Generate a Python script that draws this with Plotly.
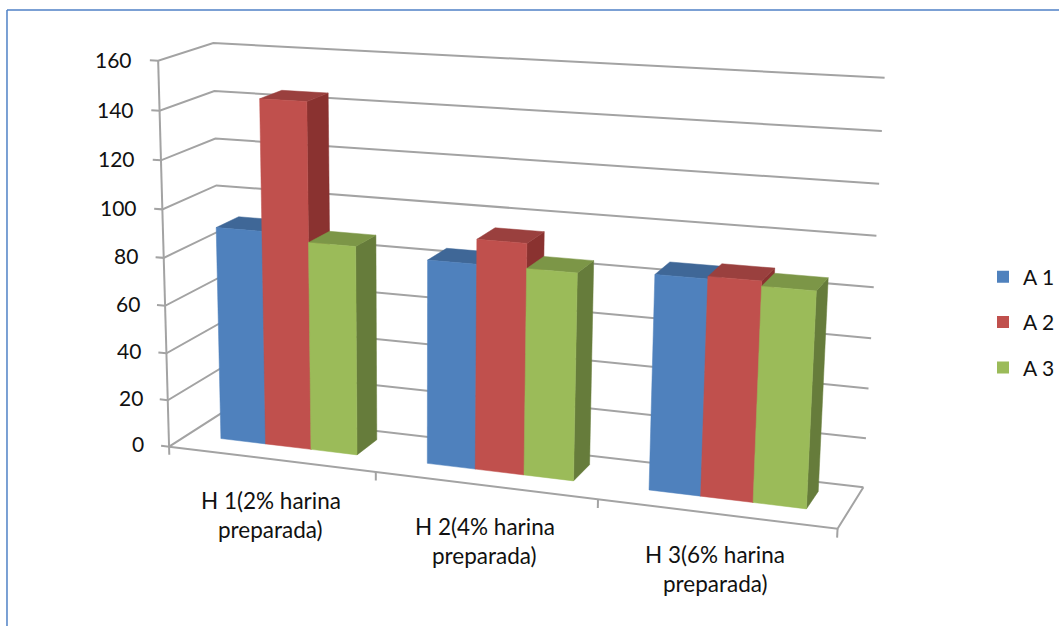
import numpy as np
import plotly.graph_objects as go

category_line1 = ["H 1(2% harina", "H 2(4% harina", "H 3(6% harina"]
category_line2 = ["preparada)", "preparada)", "preparada)"]
series_names = ["A 1", "A 2", "A 3"]
a1_values = [90, 84, 86]
a2_values = [144, 94, 87]
a3_values = [87, 84, 85]
series_values = [a1_values, a2_values, a3_values]
value_ticks = [0, 20, 40, 60, 80, 100, 120, 140, 160]
category_edges = [-0.5, 0.5, 1.5, 2.5]

front_colors = ["#4F81BD", "#C0504D", "#9BBB59"]
top_colors = ["#3F6797", "#9A403E", "#7C9647"]
side_colors = ["#385D8A", "#8A3230", "#667C3B"]

BAR_W = 0.2225
DEPTH = (0.35, 0.78)
VALUE_MAX = 160
GRID = "#A3A3A3"
TEXT = "#111111"
FONT = "Lato"

# Pinhole camera of the oblique view: (category, depth, value share, 1) -> homogeneous canvas position
CAMERA = np.array([
    [197.222036, 63.678846, -17.982164, 270.848738],
    [9.043326, -15.067159, -395.529818, 459.141435],
    [-0.035515, 0.046428, -0.043313, 1.0],
])


def project(cat, depth, value):
    h = CAMERA @ np.array([cat, depth, value / VALUE_MAX, 1.0])
    return h[0] / h[2], h[1] / h[2]


def path(points):
    xy = [project(*p) for p in points]
    return [q[0] for q in xy], [q[1] for q in xy]


def face(points, color):
    xs, ys = path(points + points[:1])
    return go.Scatter(x=xs, y=ys, mode="lines", fill="toself", fillcolor=color,
                      line=dict(color=color, width=0.5), hoverinfo="skip", showlegend=False)


def line(points, width=2):
    xs, ys = path(points)
    return go.Scatter(x=xs, y=ys, mode="lines", line=dict(color=GRID, width=width),
                      hoverinfo="skip", showlegend=False)


fig = go.Figure()
left, right = category_edges[0], category_edges[-1]

# gridlines run along the left wall and then the back wall, each with a tick at the axis
for v in value_ticks:
    fig.add_trace(line([(left - 0.04, 0, v), (left, 0, v), (left, 1, v), (right, 1, v)]))
fig.add_trace(line([(left, 0, 0), (left, 0, VALUE_MAX)]))

# floor outline and category ticks
fig.add_trace(line([(left, 0, 0), (right, 0, 0), (right, 1, 0)]))
for e in category_edges:
    fig.add_trace(line([(e, 0, 0), (e, 0, -3.5)]))

# bars, painted left to right so each one covers the side of its neighbour
y0, y1 = DEPTH
for c in range(len(category_line1)):
    for s, values in enumerate(series_values):
        v = values[c]
        x0 = c + (s - 1.5) * BAR_W
        x1 = x0 + BAR_W
        fig.add_trace(face([(x1, y0, 0), (x1, y1, 0), (x1, y1, v), (x1, y0, v)], side_colors[s]))
        fig.add_trace(face([(x0, y0, v), (x1, y0, v), (x1, y1, v), (x0, y1, v)], top_colors[s]))
        fig.add_trace(face([(x0, y0, 0), (x1, y0, 0), (x1, y0, v), (x0, y0, v)], front_colors[s]))

# legend entries
for s, name in enumerate(series_names):
    fig.add_trace(go.Scatter(x=[None], y=[None], mode="markers", name=name, legendgroup=name,
                             marker=dict(symbol="square", size=14, color=front_colors[s])))

notes = []
for v in value_ticks:
    px, py = project(left - 0.115, 0, v)
    notes.append(dict(x=px, y=py, text=str(v), showarrow=False, xanchor="right",
                      font=dict(family=FONT, size=21, color=TEXT)))
for c, (a, b) in enumerate(zip(category_line1, category_line2)):
    px, py = project(c, 0, 0)
    notes.append(dict(x=px, y=py, text=a, showarrow=False, yshift=-41,
                      font=dict(family=FONT, size=22.5, color=TEXT)))
    notes.append(dict(x=px, y=py, text=b, showarrow=False, yshift=-70,
                      font=dict(family=FONT, size=22.5, color=TEXT)))

fig.update_layout(
    width=1060, height=626, margin=dict(l=0, r=0, t=0, b=0),
    paper_bgcolor="white", plot_bgcolor="white", showlegend=True,
    xaxis=dict(range=[0, 1060], visible=False, fixedrange=True),
    yaxis=dict(range=[626, 0], visible=False, fixedrange=True),
    legend=dict(x=0.928, y=0.59, yanchor="top", xanchor="left", tracegroupgap=15,
                font=dict(family=FONT, size=21, color=TEXT), itemsizing="constant",
                bgcolor="rgba(0,0,0,0)"),
    annotations=notes,
    shapes=[
        dict(type="line", xref="paper", yref="paper", x0=0.0066, x1=0.0066, y0=0, y1=0.984,
             line=dict(color="#4F81C6", width=1.5)),
        dict(type="line", xref="paper", yref="paper", x0=0.0066, x1=1, y0=0.984, y1=0.984,
             line=dict(color="#4F81C6", width=1.5)),
    ],
)
fig.write_html("out.html")
